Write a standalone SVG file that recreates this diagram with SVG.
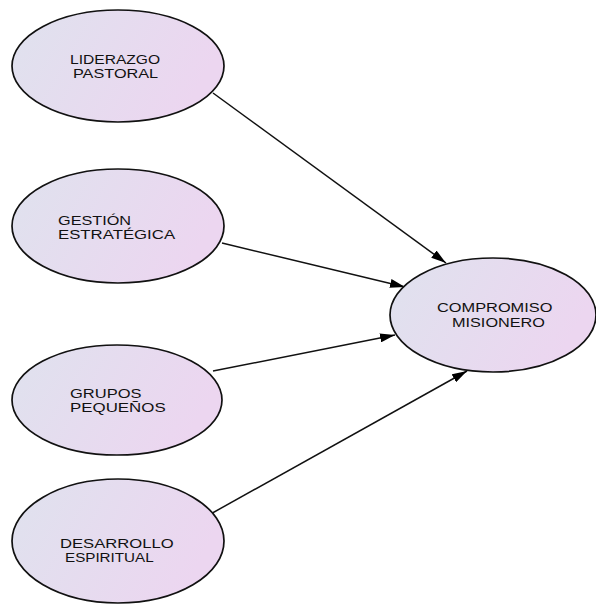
<svg xmlns="http://www.w3.org/2000/svg" width="596" height="605" viewBox="0 0 596 605">
<defs>
<linearGradient id="g" x1="0" y1="0" x2="1" y2="0.3">
<stop offset="0" stop-color="#dfe2ee"/>
<stop offset="1" stop-color="#ecd6f0"/>
</linearGradient>
<marker id="ah" viewBox="0 0 15 9" refX="15" refY="4.5" markerWidth="15" markerHeight="9" markerUnits="userSpaceOnUse" orient="auto">
<path d="M0,0 L15,4.5 L0,9 Z" fill="#000"/>
</marker>
<style>
.n ellipse{fill:url(#g);stroke:#111;stroke-width:1.7}
.n text{font-family:"Liberation Sans",Arial,sans-serif;font-size:13px;fill:#111}
.e line{stroke:#111;stroke-width:1.5;marker-end:url(#ah)}
</style>
</defs>
<rect width="596" height="605" fill="#fff"/>
<g class="e" id="connectors">
<line x1="213" y1="93" x2="446" y2="263"/>
<line x1="222" y1="243" x2="405" y2="287"/>
<line x1="213" y1="371" x2="395" y2="335"/>
<line x1="207" y1="516" x2="467" y2="371"/>
</g>
<g class="n" id="liderazgo">
<ellipse cx="118" cy="66" rx="106" ry="56"/>
<text transform="translate(70,64) scale(1.2,1)">LIDERAZGO</text>
<text transform="translate(73,78) scale(1.25,1)">PASTORAL</text>
</g>
<g class="n" id="gestion">
<ellipse cx="118" cy="226" rx="106" ry="57"/>
<text transform="translate(58,225) scale(1.25,1)">GESTIÓN</text>
<text transform="translate(58,239) scale(1.29,1)">ESTRATÉGICA</text>
</g>
<g class="n" id="grupos">
<ellipse cx="117" cy="400" rx="105" ry="55"/>
<text transform="translate(70,398.3) scale(1.27,1)">GRUPOS</text>
<text transform="translate(70,412.3) scale(1.3,1)">PEQUEÑOS</text>
</g>
<g class="n" id="desarrollo">
<ellipse cx="118" cy="541" rx="106" ry="62"/>
<text transform="translate(60,548) scale(1.28,1)">DESARROLLO</text>
<text transform="translate(65,562) scale(1.17,1)">ESPIRITUAL</text>
</g>
<g class="n" id="compromiso">
<ellipse cx="493" cy="315" rx="103" ry="57"/>
<text transform="translate(437,312.3) scale(1.26,1)">COMPROMISO</text>
<text transform="translate(452,327.3) scale(1.25,1)">MISIONERO</text>
</g>
</svg>
